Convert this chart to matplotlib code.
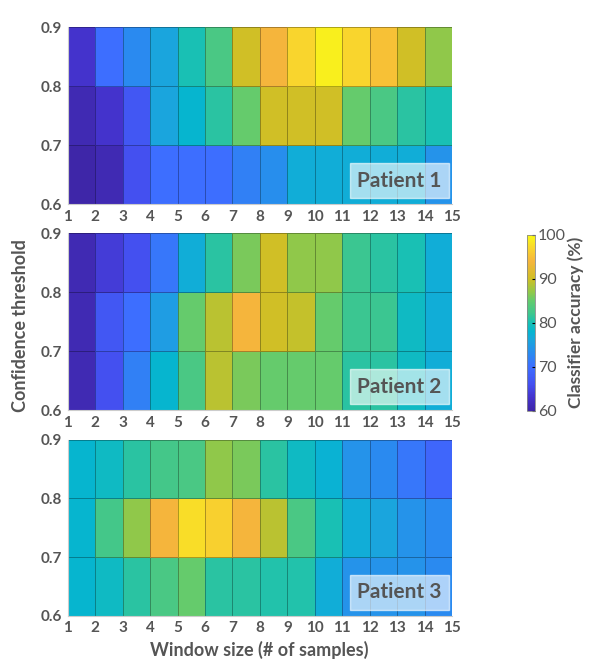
"""Classifier accuracy vs window size and confidence threshold, three patients."""
import matplotlib

matplotlib.use("Agg")
import matplotlib.pyplot as plt
import numpy as np
from matplotlib.colors import LinearSegmentedColormap

plt.rcParams["font.family"] = ["Lato", "DejaVu Sans"]

# window-size edges (x) and confidence-threshold edges (y)
WINDOW_EDGES = list(range(1, 16))
THRESH_EDGES = [0.6, 0.7, 0.8, 0.9]

# accuracy (%), rows bottom -> top (0.6-0.7, 0.7-0.8, 0.8-0.9), 14 windows each
patient1 = [
    [60, 61, 66, 70, 70, 70, 72, 73.5, 77, 77, 77, 77, 77, 74],
    [61, 63, 67, 76, 78, 81, 85, 90, 90, 90, 85, 83, 81, 80],
    [63, 70, 73, 76, 80, 83, 90, 94, 97, 99, 97, 95, 90, 87],
]
patient2 = [
    [61, 66, 72, 78, 83, 89, 86, 85, 85, 85, 81, 81, 79, 77],
    [61, 67, 70, 75, 85, 89, 94, 90, 89.5, 85, 82, 82, 79, 77],
    [61, 64, 66, 71, 77, 81, 86, 90, 87, 87, 82, 81, 80, 77],
]
patient3 = [
    [78, 79, 81, 83, 85, 81, 81, 80.5, 80.5, 77, 74, 74, 74, 73],
    [78, 82.5, 87, 94, 97.5, 96.5, 94, 89, 83, 80, 77, 76, 74, 73],
    [78, 79, 81, 82.5, 83, 87, 86, 81, 79, 77.5, 74, 73, 71, 69],
]
PATIENTS = ["Patient 1", "Patient 2", "Patient 3"]

# parula-like map, anchors matched to the figure's colour bar (60..100 %)
_anchors = [
    (60, "#3E26A8"), (63, "#4433CC"), (66, "#4450F0"), (70, "#3D6EFF"),
    (73, "#2A8AF0"), (76, "#1AA5DD"), (78, "#06B5D0"), (80, "#18C0B5"),
    (82, "#3CC690"), (85, "#63CB6E"), (87, "#90C84A"), (90, "#CFBF25"),
    (94, "#F5B53C"), (97, "#F9D52D"), (100, "#F9FB15"),
]
parula = LinearSegmentedColormap.from_list(
    "parula", [((v - 60) / 40, c) for v, c in _anchors])

TXT = "#555555"

fig = plt.figure(figsize=(5.9, 6.65), dpi=100)
rects = [
    [0.115, 0.693, 0.651, 0.266],
    [0.115, 0.383, 0.651, 0.266],
    [0.115, 0.074, 0.651, 0.265],
]

mesh = None
for rect, data, name in zip(rects, [patient1, patient2, patient3], PATIENTS):
    ax = fig.add_axes(rect)
    mesh = ax.pcolormesh(WINDOW_EDGES, THRESH_EDGES, np.array(data), cmap=parula,
                         vmin=60, vmax=100, edgecolors=(0, 0, 0, 0.3), linewidth=0.6)
    ax.set_xlim(1, 15)
    ax.set_ylim(0.6, 0.9)
    ax.set_xticks(WINDOW_EDGES)
    ax.set_yticks(THRESH_EDGES)
    ax.set_yticklabels([f"{t:.1f}" for t in THRESH_EDGES])
    ax.tick_params(length=0, labelsize=11, labelcolor=TXT, pad=4)
    for lab in ax.get_xticklabels() + ax.get_yticklabels():
        lab.set_fontweight("bold")
    for side in ["top", "right"]:
        ax.spines[side].set_visible(False)
    for side in ["left", "bottom"]:
        ax.spines[side].set_color("#cccccc")
    ax.text(14.63, 0.623, name, ha="right", va="bottom", fontsize=15,
            fontweight="bold", color=TXT,
            bbox=dict(boxstyle="square,pad=0.35", facecolor="white", alpha=0.62,
                      edgecolor="white", linewidth=1))

cax = fig.add_axes([0.893, 0.382, 0.014, 0.265])
cb = fig.colorbar(mesh, cax=cax, ticks=[60, 70, 80, 90, 100])
cb.outline.set_edgecolor("#888888")
cb.outline.set_linewidth(0.6)
cax.tick_params(labelsize=11.5, labelcolor=TXT, length=2, direction="in", pad=2)
cb.set_label("Classifier accuracy (%)", fontsize=12.5, fontweight="bold", color=TXT,
             labelpad=1)

fig.text(0.034, 0.511, "Confidence threshold", rotation=90, ha="center", va="center",
         fontsize=13, fontweight="bold", color=TXT)
fig.text(0.44, 0.022, "Window size (# of samples)", ha="center", va="center",
         fontsize=13, fontweight="bold", color=TXT)

fig.savefig("out.png", dpi=100, facecolor="white")
